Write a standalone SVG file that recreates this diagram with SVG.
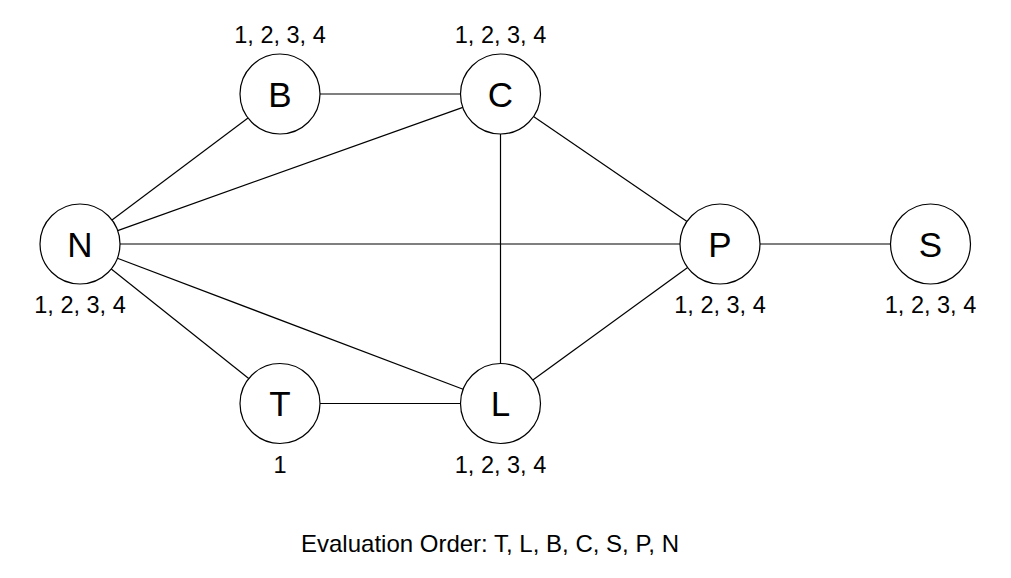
<svg xmlns="http://www.w3.org/2000/svg" width="1011" height="578" viewBox="0 0 1011 578">
<style>
.node circle{fill:#fff;stroke:#000;stroke-width:1.2}
.node text.name{font-family:"Liberation Sans",Arial,sans-serif;font-size:35px;text-anchor:middle;fill:#000}
.lbl{font-family:"Liberation Sans",Arial,sans-serif;font-size:23.5px;text-anchor:middle;fill:#000}
.caption{font-family:"Liberation Sans",Arial,sans-serif;font-size:24px;text-anchor:middle;fill:#000}
#edges line{stroke:#000;stroke-width:1.2}
</style>
<rect width="1011" height="578" fill="#fff"/>
<g id="edges">
<line x1="320" y1="94" x2="460.5" y2="94"/>
<line x1="112" y1="220" x2="248" y2="118"/>
<line x1="117.68" y1="230.56" x2="462.82" y2="107.44"/>
<line x1="120" y1="244" x2="680" y2="244"/>
<line x1="117.4" y1="258.19" x2="463.1" y2="389.31"/>
<line x1="111.27" y1="268.94" x2="248.73" y2="378.56"/>
<line x1="320" y1="403.5" x2="460.5" y2="403.5"/>
<line x1="500.5" y1="134" x2="500.5" y2="363.5"/>
<line x1="533.52" y1="116.57" x2="686.98" y2="221.43"/>
<line x1="687.64" y1="267.51" x2="532.86" y2="379.99"/>
<line x1="760" y1="244" x2="890.5" y2="244"/>
</g>
<g id="node-B" class="node"><circle cx="280" cy="94" r="40"/><text class="name" x="280" y="106.6">B</text><text class="lbl" x="280" y="43">1, 2, 3, 4</text></g>
<g id="node-C" class="node"><circle cx="500.5" cy="94" r="40"/><text class="name" x="500.5" y="106.6">C</text><text class="lbl" x="500.5" y="43">1, 2, 3, 4</text></g>
<g id="node-N" class="node"><circle cx="80" cy="244" r="40"/><text class="name" x="80" y="256.6">N</text><text class="lbl" x="80" y="313">1, 2, 3, 4</text></g>
<g id="node-P" class="node"><circle cx="720" cy="244" r="40"/><text class="name" x="720" y="256.6">P</text><text class="lbl" x="720" y="313">1, 2, 3, 4</text></g>
<g id="node-S" class="node"><circle cx="930.5" cy="244" r="40"/><text class="name" x="930.5" y="256.6">S</text><text class="lbl" x="930.5" y="313">1, 2, 3, 4</text></g>
<g id="node-T" class="node"><circle cx="280" cy="403.5" r="40"/><text class="name" x="280" y="416.1">T</text><text class="lbl" x="280" y="473">1</text></g>
<g id="node-L" class="node"><circle cx="500.5" cy="403.5" r="40"/><text class="name" x="500.5" y="416.1">L</text><text class="lbl" x="500.5" y="473">1, 2, 3, 4</text></g>
<text class="caption" x="490" y="552">Evaluation Order: T, L, B, C, S, P, N</text>
</svg>
